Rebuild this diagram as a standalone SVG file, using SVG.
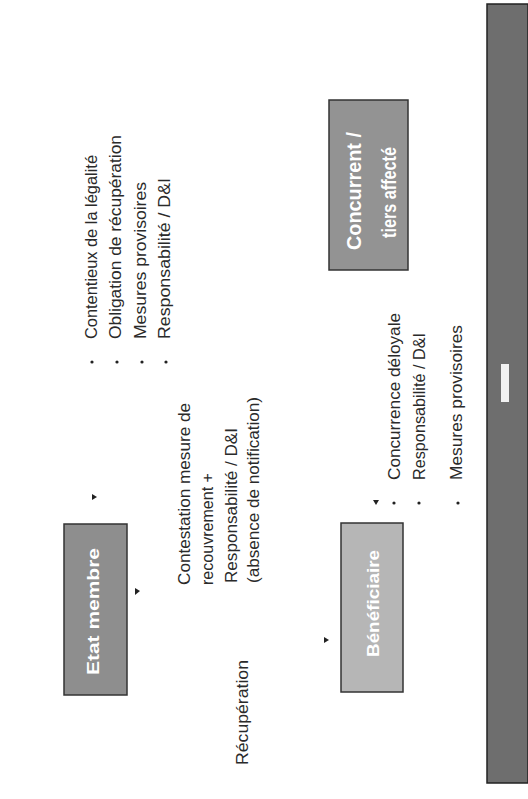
<svg xmlns="http://www.w3.org/2000/svg" width="528" height="799" viewBox="0 0 528 799">
<defs>
<style>
.t{font-family:"Liberation Sans",Arial,sans-serif;font-size:16px;fill:#2a2a2a}
.b{font-family:"Liberation Sans",Arial,sans-serif;font-weight:bold;fill:#ffffff}
.box{stroke:#333;stroke-width:1.5}
.dot{fill:#222}
</style>
</defs>
<rect width="528" height="799" fill="#ffffff"/>

<g id="footer">
<rect x="487" y="4" width="41" height="779" fill="#6e6e6e" stroke="#222" stroke-width="1.5"/>
<rect x="501" y="364" width="8" height="38" fill="#f2f2f2"/>
</g>

<g id="node-etat-membre">
<rect class="box" x="64" y="524" width="63" height="171" fill="#8e8e8e"/>
<text class="b" font-size="17" transform="translate(99,675) rotate(-90)" textLength="127" lengthAdjust="spacingAndGlyphs">Etat membre</text>
</g>

<g id="node-beneficiaire">
<rect class="box" x="341" y="523" width="62" height="169" fill="#b6b6b6" stroke="#555"/>
<text class="b" font-size="16" transform="translate(379,657) rotate(-90)" textLength="107" lengthAdjust="spacingAndGlyphs" fill="#f4f4f4">Bénéficiaire</text>
</g>

<g id="node-concurrent">
<rect class="box" x="329" y="100" width="79" height="170" fill="#939393"/>
<text class="b" font-size="20" transform="translate(361,250) rotate(-90)" textLength="118" lengthAdjust="spacingAndGlyphs">Concurrent /</text>
<text class="b" font-size="20" transform="translate(396,238) rotate(-90)" textLength="91" lengthAdjust="spacingAndGlyphs">tiers affecté</text>
</g>

<g id="connectors">
<polygon class="dot" points="135,588 140,591 135,595"/>
<polygon class="dot" points="92,494 97,497 92,500"/>
<polygon class="dot" points="324,637 329,640 324,643"/>
<polygon class="dot" points="373,500 379,500 376,505"/>
</g>

<g id="etat-list">
<circle class="dot" cx="92" cy="362" r="1.6"/>
<circle class="dot" cx="117" cy="362" r="1.6"/>
<circle class="dot" cx="142" cy="362" r="1.6"/>
<circle class="dot" cx="166" cy="362" r="1.6"/>
<text class="t" transform="translate(97,339) rotate(-90)" textLength="184" lengthAdjust="spacingAndGlyphs">Contentieux de la légalité</text>
<text class="t" transform="translate(121,339) rotate(-90)" textLength="204" lengthAdjust="spacingAndGlyphs">Obligation de récupération</text>
<text class="t" transform="translate(146,339) rotate(-90)" textLength="157" lengthAdjust="spacingAndGlyphs">Mesures provisoires</text>
<text class="t" transform="translate(170,339) rotate(-90)" textLength="161" lengthAdjust="spacingAndGlyphs">Responsabilité / D&amp;I</text>
</g>

<g id="label-contestation">
<text class="t" transform="translate(190,585) rotate(-90)" textLength="182" lengthAdjust="spacingAndGlyphs">Contestation mesure de</text>
<text class="t" transform="translate(213,585) rotate(-90)" textLength="112" lengthAdjust="spacingAndGlyphs">recouvrement +</text>
<text class="t" transform="translate(237,583) rotate(-90)" textLength="155" lengthAdjust="spacingAndGlyphs">Responsabilité / D&amp;I</text>
<text class="t" transform="translate(259,583) rotate(-90)" textLength="186" lengthAdjust="spacingAndGlyphs">(absence de notification)</text>
</g>

<g id="label-recuperation">
<text class="t" font-size="15" transform="translate(248,765) rotate(-90)" textLength="105" lengthAdjust="spacingAndGlyphs">Récupération</text>
</g>

<g id="beneficiaire-list">
<circle class="dot" cx="394" cy="503" r="1.6"/>
<circle class="dot" cx="419" cy="503" r="1.6"/>
<circle class="dot" cx="458" cy="503" r="1.6"/>
<text class="t" transform="translate(400,480) rotate(-90)" textLength="167" lengthAdjust="spacingAndGlyphs">Concurrence déloyale</text>
<text class="t" transform="translate(425,480) rotate(-90)" textLength="147" lengthAdjust="spacingAndGlyphs">Responsabilité / D&amp;I</text>
<text class="t" transform="translate(462,480) rotate(-90)" textLength="155" lengthAdjust="spacingAndGlyphs">Mesures provisoires</text>
</g>
</svg>
